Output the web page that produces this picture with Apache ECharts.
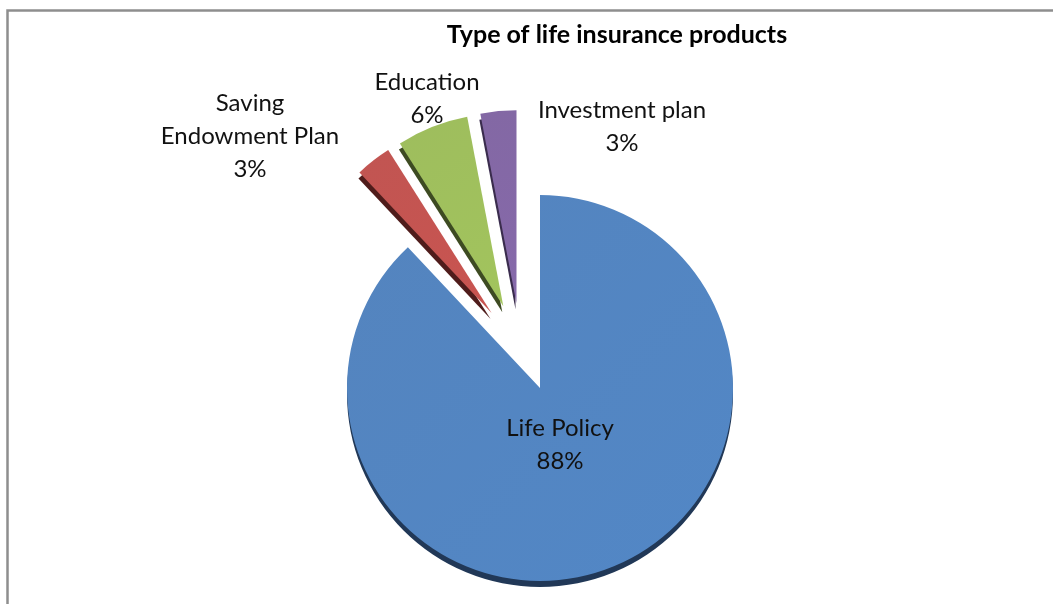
<!DOCTYPE html>
<html>
<head>
<meta charset="utf-8">
<script src="https://cdn.jsdelivr.net/npm/echarts@6/dist/echarts.min.js"></script>
<style>
  html, body { margin: 0; padding: 0; background: #ffffff; }
  #chart { width: 1053px; height: 604px; }
</style>
</head>
<body>
<div id="chart"></div>
<script>
// Product mix (share of policies, %)
const categories = ['Life Policy', 'Saving\nEndowment Plan', 'Education', 'Investment plan'];
const shares = [88, 3, 6, 3];

// Top faces and darker side walls for the faux-3D look
const faceColors = ['#4F81BD', '#C0504D', '#9BBB59', '#8064A2'];
const sideColors = ['#213857', '#4F1C1B', '#3D4B22', '#3A2C4D'];

const FONT = 'Lato, "Open Sans", "DejaVu Sans", sans-serif';
const MAIN_CENTER = [540, 388];   // centre of the large slice
const WEDGE_CENTER = [521, 351];  // centre the pulled-out slices are offset from
const RADIUS = 193;
const EXPLODE = 48;
const DEPTH = 6;

// Where each label block is centred
const labelAnchors = {
  'Life Policy': [560, 445],
  'Saving\nEndowment Plan': [250, 136],
  'Education': [427, 99],
  'Investment plan': [622, 127]
};

const clear = 'rgba(0,0,0,0)';

function faceFill(i) {
  const c = faceColors[i];
  return {
    type: 'linear', x: 0, y: 0, x2: 1, y2: 1,
    colorStops: [
      { offset: 0, color: echarts.color.lift(c, 0.03) },
      { offset: 1, color: echarts.color.lift(c, -0.05) }
    ]
  };
}

// One layer of the pie: `showMain` picks the large slice or the pulled-out ones.
// Labels for every slice live on the unexploded top layer so they can be pinned freely.
function layerData(showMain, palette, withLabels) {
  return categories.map((name, i) => {
    const visible = showMain ? i === 0 : i !== 0;
    return {
      name: name,
      value: shares[i],
      selected: !showMain && i !== 0,
      itemStyle: { color: visible ? (palette === 'face' ? faceFill(i) : sideColors[i]) : clear },
      label: { show: withLabels }
    };
  });
}

const labelStyle = {
  formatter: '{b}\n{d}%',
  fontFamily: FONT,
  fontSize: 24,
  lineHeight: 33,
  color: '#111111',
  align: 'center'
};

function placeLabel(params) {
  const a = labelAnchors[categories[params.dataIndex]];
  return { x: a[0], y: a[1], align: 'center', verticalAlign: 'middle' };
}

function layer(center, showMain, palette, withLabels) {
  return {
    type: 'pie',
    center: center,
    radius: [0, RADIUS],
    startAngle: 90,
    clockwise: true,
    selectedMode: 'multiple',
    selectedOffset: EXPLODE,
    avoidLabelOverlap: false,
    silent: true,
    emphasis: { disabled: true },
    itemStyle: { borderWidth: 0 },
    label: Object.assign({ position: 'outside' }, labelStyle),
    labelLine: { show: false },
    labelLayout: withLabels ? placeLabel : null,
    data: layerData(showMain, palette, withLabels)
  };
}

const chart = echarts.init(document.getElementById('chart'), null, { renderer: 'canvas' });
chart.setOption({
  animation: false,
  backgroundColor: '#ffffff',
  title: {
    text: 'Type of life insurance products',
    left: 612,
    top: 17,
    textAlign: 'center',
    textStyle: { fontFamily: FONT, fontSize: 25, fontWeight: 'bold', color: '#000000' }
  },
  graphic: [{
    type: 'rect',
    shape: { x: 7.5, y: 10.5, width: 1200, height: 800 },
    style: { fill: 'none', stroke: '#8E8E8E', lineWidth: 2.5 },
    silent: true
  }],
  series: [
    layer([MAIN_CENTER[0], MAIN_CENTER[1] + DEPTH], true, 'side', false),
    layer([WEDGE_CENTER[0] - 1, WEDGE_CENTER[1] + DEPTH], false, 'side', false),
    layer(WEDGE_CENTER, false, 'face', false),
    layer(MAIN_CENTER, true, 'face', true)
  ]
});
</script>
</body>
</html>
